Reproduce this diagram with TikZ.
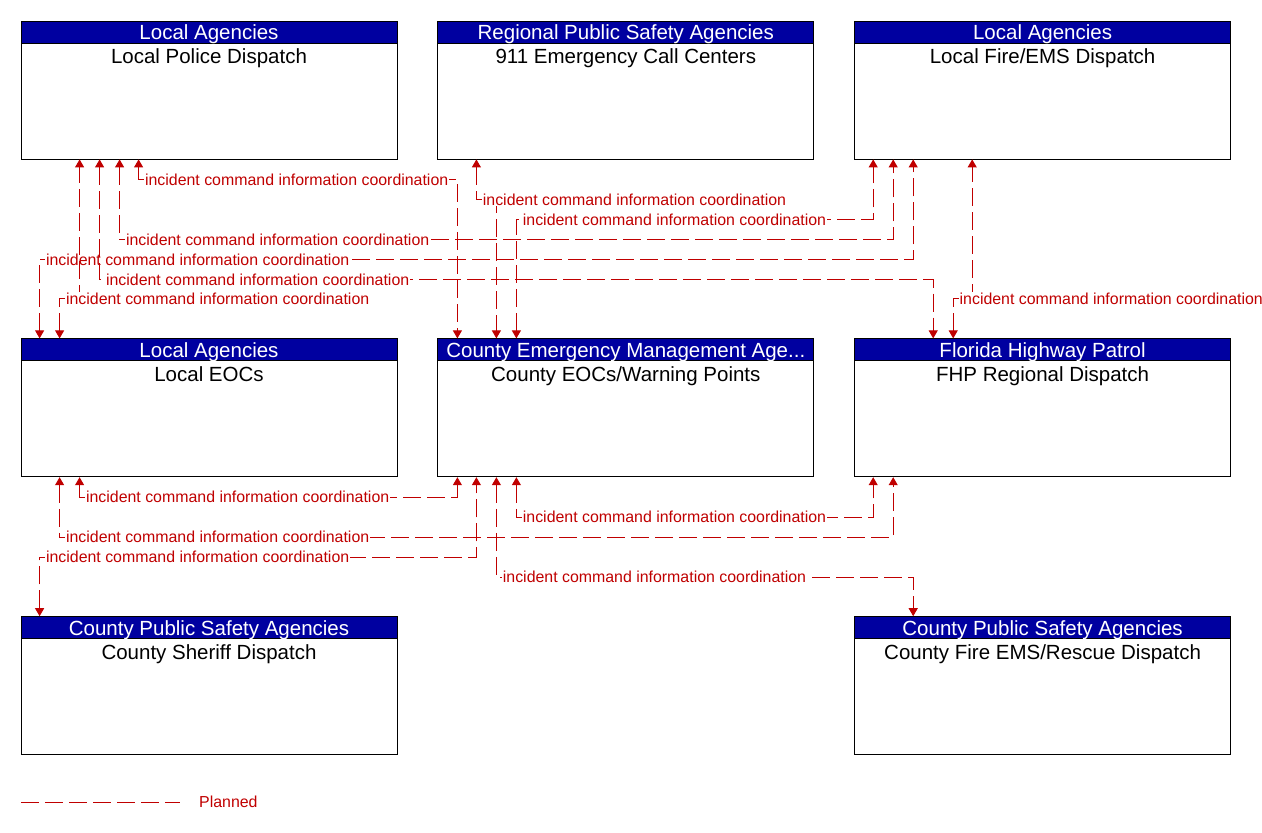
\documentclass[tikz,border=0pt]{standalone}
\usepackage{fontspec}
\setmainfont{Liberation Sans}
\usetikzlibrary{arrows.meta, positioning}

\definecolor{hdrblue}{RGB}{0,0,160}
\definecolor{flowred}{RGB}{192,0,0}

\begin{document}
\begin{tikzpicture}[
    x=1pt, y=-1pt, node distance=40pt,
    sysbox/.style={draw, line width=0.8pt, minimum width=376pt,
        minimum height=138pt, inner sep=0pt},
    hdr/.style={draw, line width=0.8pt, fill=hdrblue, text=white,
        minimum width=376pt, minimum height=22pt, inner sep=0pt,
        text height=18.5pt, text depth=3.5pt,
        font=\fontsize{20.5}{22}\selectfont},
    ttl/.style={font=\fontsize{20.5}{22}\selectfont, inner sep=0pt},
    flow/.style={draw=flowred, line width=1pt, dash pattern=on 18pt off 6pt,
        {Triangle[width=9pt,length=8pt]}-{Triangle[width=9pt,length=8pt]}},
    lbl/.style={anchor=west, xshift=5pt, fill=white, inner sep=1pt,
        text=flowred, font=\fontsize{15.9}{17}\selectfont}
  ]
  \useasboundingbox (0,0) rectangle (1262,833);

  % systems
  \node[sysbox] (police) at (209,90) {};
  \node[sysbox, right=of police] (pscc) {};
  \node[sysbox, right=of pscc] (fire) {};
  \node[sysbox, below=179pt of police] (leoc) {};
  \node[sysbox, right=of leoc] (ceoc) {};
  \node[sysbox, right=of ceoc] (fhp) {};
  \node[sysbox, below=139pt of leoc] (sheriff) {};
  \node[sysbox, below=139pt of fhp] (cfire) {};

  \node[hdr, anchor=north] (policeh) at (police.north) {Local Agencies};
  \node[ttl, anchor=base] at ([yshift=-20pt]policeh.south) {Local Police Dispatch};
  \node[hdr, anchor=north] (pscch) at (pscc.north) {Regional Public Safety Agencies};
  \node[ttl, anchor=base] at ([yshift=-20pt]pscch.south) {911 Emergency Call Centers};
  \node[hdr, anchor=north] (fireh) at (fire.north) {Local Agencies};
  \node[ttl, anchor=base] at ([yshift=-20pt]fireh.south) {Local Fire/EMS Dispatch};
  \node[hdr, anchor=north] (leoch) at (leoc.north) {Local Agencies};
  \node[ttl, anchor=base] at ([yshift=-20pt]leoch.south) {Local EOCs};
  \node[hdr, anchor=north] (ceoch) at (ceoc.north) {County Emergency Management Age...};
  \node[ttl, anchor=base] at ([yshift=-20pt]ceoch.south) {County EOCs/Warning Points};
  \node[hdr, anchor=north] (fhph) at (fhp.north) {Florida Highway Patrol};
  \node[ttl, anchor=base] at ([yshift=-20pt]fhph.south) {FHP Regional Dispatch};
  \node[hdr, anchor=north] (sheriffh) at (sheriff.north) {County Public Safety Agencies};
  \node[ttl, anchor=base] at ([yshift=-20pt]sheriffh.south) {County Sheriff Dispatch};
  \node[hdr, anchor=north] (cfireh) at (cfire.north) {County Public Safety Agencies};
  \node[ttl, anchor=base] at ([yshift=-20pt]cfireh.south) {County Fire EMS/Rescue Dispatch};

  % flows between top and middle rows
  \draw[flow] ([xshift=118pt]police.south west) -- ++(0,20)
    node[lbl] {incident command information coordination} -| ([xshift=20pt]ceoc.north west);
  \draw[flow] ([xshift=39pt]pscc.south west) -- ++(0,40)
    node[lbl] {incident command information coordination} -| ([xshift=59pt]ceoc.north west);
  \draw[flow] ([xshift=79pt]ceoc.north west) -- ++(0,-119)
    node[lbl] {incident command information coordination} -| ([xshift=19pt]fire.south west);
  \draw[flow] ([xshift=99pt]police.south west) -- ++(0,80)
    node[lbl] {incident command information coordination} -| ([xshift=39pt]fire.south west);
  \draw[flow] ([xshift=19pt]leoc.north west) -- ++(0,-79)
    node[lbl] {incident command information coordination} -| ([xshift=59pt]fire.south west);
  \draw[flow] ([xshift=79pt]police.south west) -- ++(0,120)
    node[lbl] {incident command information coordination} -| ([xshift=79pt]fhp.north west);
  \draw[flow] ([xshift=39pt]leoc.north west) -- ++(0,-40)
    node[lbl] {incident command information coordination} -| ([xshift=59pt]police.south west);
  \draw[flow] ([xshift=99pt]fhp.north west) -- ++(0,-40)
    node[lbl] {incident command information coordination} -| ([xshift=118pt]fire.south west);

  % flows below the middle row
  \draw[flow] ([xshift=59pt]leoc.south west) -- ++(0,20)
    node[lbl] {incident command information coordination} -| ([xshift=20pt]ceoc.south west);
  \draw[flow] ([xshift=39pt]leoc.south west) -- ++(0,60)
    node[lbl] {incident command information coordination} -| ([xshift=39pt]fhp.south west);
  \draw[flow] ([xshift=19pt]sheriff.north west) -- ++(0,-59)
    node[lbl] {incident command information coordination} -| ([xshift=39pt]ceoc.south west);
  \draw[flow] ([xshift=59pt]ceoc.south west) -- ++(0,100)
    node[lbl] {incident command information coordination} -| ([xshift=59pt]cfire.north west);
  \draw[flow] ([xshift=79pt]ceoc.south west) -- ++(0,40)
    node[lbl] {incident command information coordination} -| ([xshift=19pt]fhp.south west);

  % legend
  \node[anchor=west, inner sep=0pt, text=flowred,
    font=\fontsize{15.9}{17}\selectfont] (planned) at (199,802) {Planned};
  \coordinate (legA) at (21,802);
  \coordinate (legB) at (180,802);
  \draw[draw=flowred, line width=1pt, dash pattern=on 18pt off 6pt] (legA) -- (legB);
\end{tikzpicture}
\end{document}
